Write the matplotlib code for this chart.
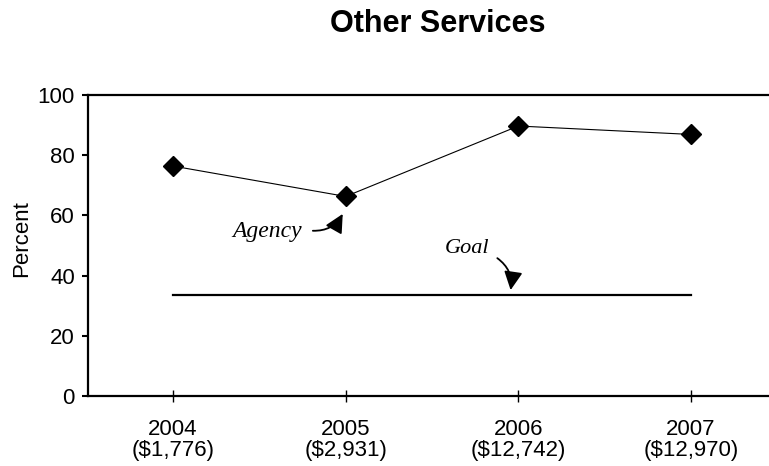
import matplotlib.pyplot as plt

years = ["2004", "2005", "2006", "2007"]
amounts = ["($1,776)", "($2,931)", "($12,742)", "($12,970)"]
agency = [76.4, 66.3, 89.7, 86.9]
goal = [33.5, 33.5, 33.5, 33.5]

plt.rcParams["font.family"] = ["Liberation Sans", "DejaVu Sans"]

fig = plt.figure(figsize=(7.69, 4.66), dpi=100)
ax = fig.add_axes([0.1144, 0.1502, 0.8856, 0.6459])

xs = list(range(len(years)))
ax.plot(xs, goal, color="black", lw=1.6, zorder=2)
ax.plot(xs, agency, color="black", lw=0.8, marker="D", markersize=10, zorder=3)

ax.set_xlim(-0.492, 3.451)
ax.set_ylim(0, 100)
ax.set_yticks([0, 20, 40, 60, 80, 100])
ax.set_xticks(xs)
ax.set_xticklabels([f"{y}\n{a}" for y, a in zip(years, amounts)], linespacing=1.0)
ax.tick_params(axis="x", direction="inout", length=9, width=1, labelsize=16, pad=12)
ax.tick_params(axis="y", direction="out", length=4.5, width=1.5, labelsize=16, pad=5)
ax.set_ylabel("Percent", fontsize=16)
ax.yaxis.set_label_coords(-0.082, 0.523)

ax.spines["right"].set_visible(False)
for s in ["left", "bottom", "top"]:
    ax.spines[s].set_linewidth(1.6)

fig.text(438 / 769, 1 - 24 / 466, "Other Services", ha="center", va="center",
         fontsize=22, fontweight="bold")

serif = ["Liberation Serif", "DejaVu Serif"]
arrow = dict(arrowstyle="-|>,head_length=0.8,head_width=0.4", mutation_scale=14,
             color="black", lw=1.3, shrinkA=0, shrinkB=0)

ax.text(0.545, 54.5, "Agency", fontsize=17, fontstyle="italic", family=serif,
        ha="center", va="center")
ax.annotate("", xy=(0.983, 60.5), xytext=(0.81, 54.9),
            arrowprops=dict(arrow, connectionstyle="arc3,rad=0.3"))

ax.text(1.705, 49.0, "Goal", fontsize=16, fontstyle="italic", family=serif,
        ha="center", va="center")
ax.annotate("", xy=(1.955, 35.2), xytext=(1.878, 45.8),
            arrowprops=dict(arrow, connectionstyle="arc3,rad=-0.3"))

fig.savefig("out.png", dpi=100)
